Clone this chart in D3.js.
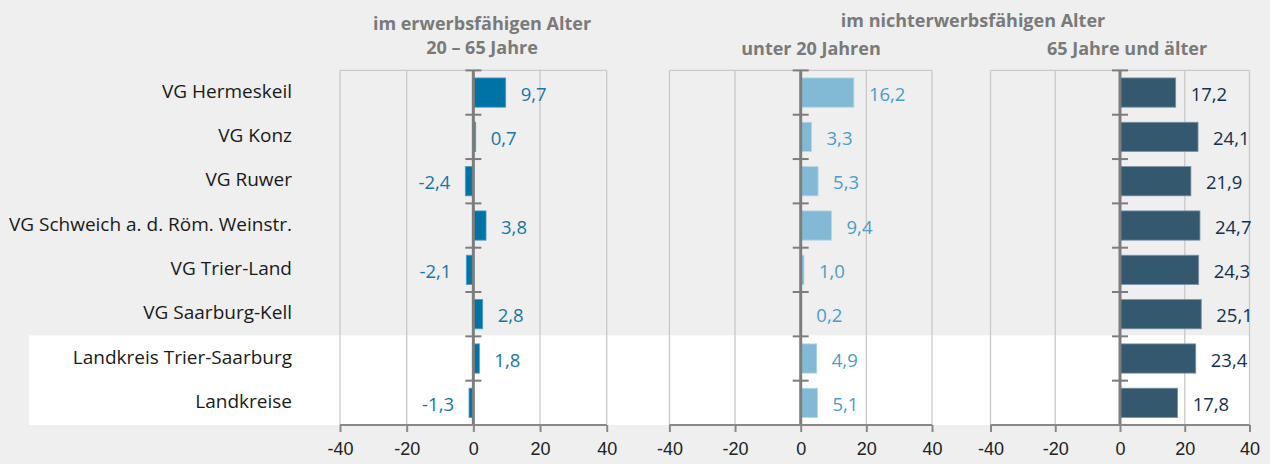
<!DOCTYPE html>
<html>
<head>
<meta charset="utf-8">
<script src="https://cdn.jsdelivr.net/npm/d3@7"></script>
<style>
  body { margin: 0; background: #eeefee; }
  svg { display: block; background: #eeefee; font-family: "Open Sans", "Noto Sans", sans-serif; }
  .title { font-weight: 700; fill: #7a7a7a; font-size: 18px; text-anchor: middle; }
  .cat { font-size: 19px; fill: #1a1a1a; text-anchor: end; }
  .val { font-size: 18.5px; }
  .tick text { font-size: 18px; fill: #222; }
</style>
</head>
<body>
<svg></svg>
<script>
// data
var categories = ["VG Hermeskeil", "VG Konz", "VG Ruwer", "VG Schweich a. d. Röm. Weinstr.",
  "VG Trier-Land", "VG Saarburg-Kell", "Landkreis Trier-Saarburg", "Landkreise"];
var erwerbsfaehig = [9.7, 0.7, -2.4, 3.8, -2.1, 2.8, 1.8, -1.3];
var unter20 = [16.2, 3.3, 5.3, 9.4, 1.0, 0.2, 4.9, 5.1];
var ab65 = [17.2, 24.1, 21.9, 24.7, 24.3, 25.1, 23.4, 17.8];
var tickValues = [-40, -20, 0, 20, 40];

var svgWidth = 1270, svgHeight = 464,
  plotTop = 70.4, plotBottom = 425;

var svg = d3.select("svg").attr("width", svgWidth).attr("height", svgHeight);

var y = d3.scaleBand().domain(categories).range([plotTop, plotBottom]).paddingInner(0.34).paddingOuter(0.17);
var rowY = d3.scaleBand().domain(categories).range([plotTop, plotBottom]);

// white band for the two summary rows
svg.append("rect")
  .attr("x", 29).attr("width", 1250 - 29)
  .attr("y", rowY("Landkreis Trier-Saarburg") - 1)
  .attr("height", plotBottom - rowY("Landkreis Trier-Saarburg") + 1)
  .attr("fill", "#ffffff");

var panels = [
  { values: erwerbsfaehig, range: [340, 606.7], bar: "#0073a6", stroke: "#4d9cc2", label: "#1577a8" },
  { values: unter20, range: [669.4, 932], bar: "#82bad6", stroke: "#b5d7e8", label: "#4b9dc7" },
  { values: ab65, range: [990.5, 1249.5], bar: "#34596f", stroke: "#7a93a3", label: "#12324f" }
];

var fmt = function (v) { return d3.format(".1f")(v).replace(".", ",").replace("−", "-"); };

panels.forEach(function (p) {
  var x = d3.scaleLinear().domain([-40, 40]).range(p.range);
  var g = svg.append("g");

  // grid + frame
  g.selectAll(".grid").data(tickValues.filter(function (t) { return t !== 0; }))
    .enter().append("line")
    .attr("x1", function (d) { return x(d); }).attr("x2", function (d) { return x(d); })
    .attr("y1", plotTop).attr("y2", plotBottom)
    .attr("stroke", "#c9c9c9").attr("stroke-width", 1.3);
  g.append("line")
    .attr("x1", x(-40)).attr("x2", x(40)).attr("y1", plotTop).attr("y2", plotTop)
    .attr("stroke", "#c9c9c9").attr("stroke-width", 1.3);

  // bars
  g.selectAll(".bar").data(p.values).enter().append("rect")
    .attr("x", function (d) { return x(Math.min(0, d)); })
    .attr("width", function (d) { return Math.abs(x(d) - x(0)); })
    .attr("y", function (d, i) { return y(categories[i]); })
    .attr("height", y.bandwidth())
    .attr("fill", p.bar).attr("stroke", p.stroke).attr("stroke-width", 0.8);

  // value labels
  g.selectAll(".val").data(p.values).enter().append("text")
    .attr("class", "val")
    .attr("x", function (d) { return d >= 0 ? x(d) + 15 : x(d) - 15; })
    .attr("y", function (d, i) { return rowY(categories[i]) + rowY.bandwidth() / 2 + 8; })
    .attr("text-anchor", function (d) { return d >= 0 ? "start" : "end"; })
    .attr("fill", p.label)
    .text(fmt);

  // zero line with separators
  g.append("line")
    .attr("x1", x(0)).attr("x2", x(0)).attr("y1", plotTop).attr("y2", plotBottom)
    .attr("stroke", "#7d7d7d").attr("stroke-width", 3);
  g.selectAll(".sep").data(d3.range(categories.length)).enter().append("line")
    .attr("x1", x(0) - 8).attr("x2", x(0) + 8)
    .attr("y1", function (i) { return plotTop + i * rowY.step(); })
    .attr("y2", function (i) { return plotTop + i * rowY.step(); })
    .attr("stroke", "#7d7d7d").attr("stroke-width", 2);

  // bottom axis
  var axis = g.append("g")
    .attr("class", "axis")
    .attr("transform", "translate(0," + plotBottom + ")")
    .call(d3.axisBottom(x).tickValues(tickValues).tickSize(7).tickPadding(10)
      .tickFormat(function (d) { return String(d); }));
  axis.select(".domain").attr("stroke", "#888").attr("stroke-width", 2)
    .attr("d", "M" + x(-40) + ",0H" + x(40));
  axis.selectAll(".tick line").attr("stroke", "#888").attr("stroke-width", 2);
  axis.selectAll(".tick text").attr("fill", "#222");
});

// category labels
svg.selectAll(".cat").data(categories).enter().append("text")
  .attr("class", "cat")
  .attr("x", 292)
  .attr("y", function (d) { return rowY(d) + rowY.bandwidth() / 2 + 5; })
  .text(function (d) { return d; });

// titles
var titles = [
  { text: "im erwerbsfähigen Alter", x: 482, y: 30 },
  { text: "20 – 65 Jahre", x: 482, y: 54 },
  { text: "im nichterwerbsfähigen Alter", x: 973, y: 27 },
  { text: "unter 20 Jahren", x: 811, y: 55 },
  { text: "65 Jahre und älter", x: 1127, y: 55 }
];
svg.selectAll(".title").data(titles).enter().append("text")
  .attr("class", "title")
  .attr("x", function (d) { return d.x; })
  .attr("y", function (d) { return d.y; })
  .text(function (d) { return d.text; });
</script>
</body>
</html>
